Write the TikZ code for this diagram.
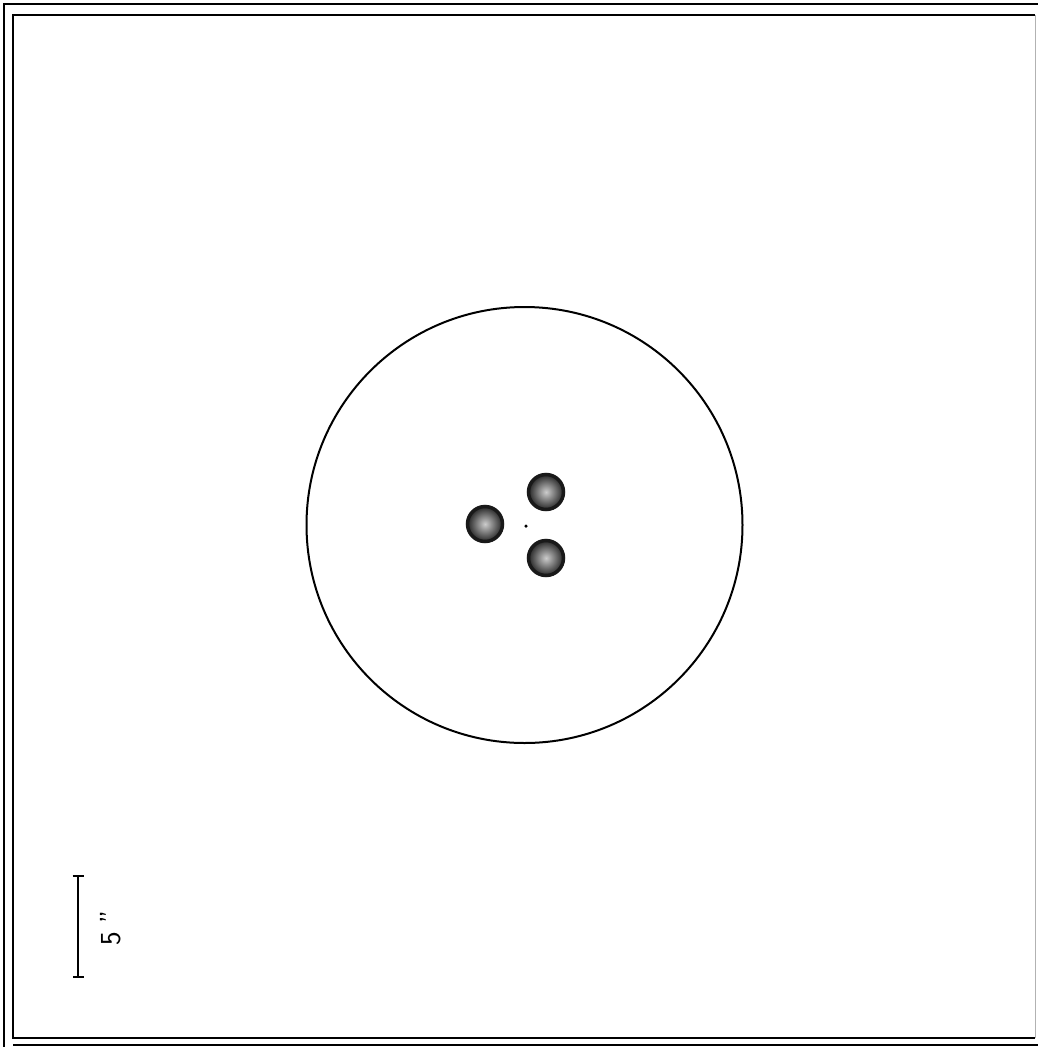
\documentclass[tikz,border=0pt]{standalone}
\usetikzlibrary{arrows.meta}
\tikzset{
  frameline/.style={line width=2.2pt},
  edgeline/.style={gray!60, line width=1pt},
  ring/.style={circle, draw=black, line width=2pt, inner sep=0pt, minimum size=436pt},
  blob/.style={circle, draw=black!90, line width=3.5pt, inner sep=0pt, minimum size=35pt, inner color=gray!40, outer color=black!85},
  centre/.style={circle, fill=black, inner sep=0pt, minimum size=3.5pt},
  bar/.style={{Bar[width=11pt,line width=2pt]}-{Bar[width=11pt,line width=2pt]}, line width=2pt},
}

\begin{document}
\begin{tikzpicture}[x=1pt, y=-1pt]
  \useasboundingbox (0,0) rectangle (1038,1047);
  % double frame
  \draw[frameline] (4,1047) -- (4,4) -- (1038,4);
  \draw[frameline] (1038,1045) -- (13,1045);
  \draw[frameline] (1035,1038) -- (13,1038) -- (13,15) -- (1035,15);
  \draw[edgeline] (1035,15) -- (1035,1038);
  % ring and the three cores
  \node[ring] (ring) at (524.5,525) {};
  \node[centre] (mid) at (526,526) {};
  \node[blob] (left) at (485,524) {};
  \node[blob] (upper) at (546,492) {};
  \node[blob] (lower) at (546,558) {};
  % scale bar
  \coordinate (bartop) at (78,875);
  \coordinate (barbot) at (78,978);
  \draw[bar] (barbot) -- (bartop);
  \node[rotate=90, font=\fontsize{29}{29}\selectfont\sffamily] (barlab) at (111,928) {5 ''};
\end{tikzpicture}
\end{document}
